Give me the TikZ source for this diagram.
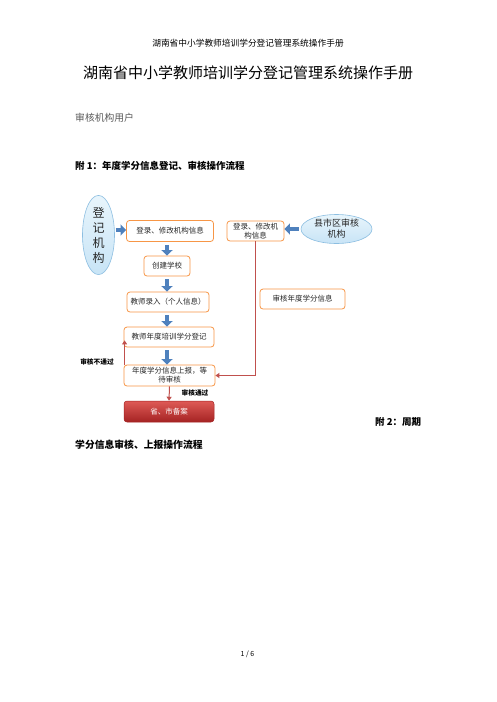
\documentclass[tikz,border=0pt]{standalone}
\usepackage{fontspec}
\setmainfont{Noto Sans CJK SC}
\usetikzlibrary{arrows.meta,calc,shapes.geometric}
\definecolor{boxorange}{RGB}{247,150,70}
\definecolor{conred}{RGB}{192,80,77}
\definecolor{arrblue}{RGB}{79,129,189}
\definecolor{ellfill}{RGB}{200,228,246}
\definecolor{elltop}{RGB}{232,245,252}
\definecolor{elldraw}{RGB}{140,190,225}
\definecolor{redtop}{RGB}{222,90,86}
\definecolor{redbot}{RGB}{165,35,35}
\tikzset{
  flowbox/.style={draw=boxorange, line width=0.8pt, rounded corners=3pt, fill=white,
    inner sep=1pt, align=center, font=\fontsize{7.5}{9}\selectfont, text=black!85},
  finalbox/.style={draw=redbot, line width=0.5pt, rounded corners=3pt,
    top color=redtop, bottom color=redbot, inner sep=1pt, align=center,
    font=\fontsize{7.5}{9}\selectfont, text=white},
  bluell/.style={ellipse, draw=elldraw, line width=0.6pt, top color=elltop, bottom color=ellfill,
    inner sep=0pt, align=center, text=black!85},
  barrow/.style={draw=arrblue, line width=4.5pt, -{Triangle[width=11pt,length=5.5pt]}, arrblue},
  rarrow/.style={draw=conred, line width=1pt, -{Triangle[width=5pt,length=4pt]}, conred},
  plain/.style={inner sep=0pt, text=black},
}
\begin{document}
\begin{tikzpicture}[x=1pt,y=-1pt]
\useasboundingbox (0,0) rectangle (496,702);
\fill[white] (0,0) rectangle (496,702);
% page texts
\node[plain, font=\fontsize{8.7}{10}\selectfont] (hdr) at (248,43) {湖南省中小学教师培训学分登记管理系统操作手册};
\node[plain, font=\fontsize{15}{17}\selectfont] (ttl) at (248,73) {湖南省中小学教师培训学分登记管理系统操作手册};
\node[plain, anchor=west, text=black!65, font=\fontsize{9.8}{11}\selectfont] (usr) at (75,118) {审核机构用户};
\node[plain, anchor=west, font=\fontsize{9.5}{11}\selectfont\bfseries] (fu1) at (75,166) {附 1：年度学分信息登记、审核操作流程};
\node[plain, anchor=west, font=\fontsize{9.5}{11}\selectfont\bfseries] (fu2) at (375,422) {附 2：周期};
\node[plain, anchor=west, font=\fontsize{9.8}{11}\selectfont\bfseries] (fu2b) at (75,445) {学分信息审核、上报操作流程};
\node[plain, font=\fontsize{7}{8}\selectfont] (pg) at (247.5,654) {1 / 6};
% ellipses
\node[bluell, minimum width=32pt, minimum height=63pt, font=\fontsize{12}{15}\selectfont] (e1) at (98.5,235) {登\\记\\机\\构};
\node[bluell, minimum width=71pt, minimum height=29pt, font=\fontsize{9}{11}\selectfont] (e2) at (336.5,229) {县市区审核\\机构};
% boxes
\node[flowbox, minimum width=87pt, minimum height=21pt] (b1) at (170,231) {登录、修改机构信息};
\node[flowbox, minimum width=46pt, minimum height=20pt] (b2) at (167,266) {创建学校};
\node[flowbox, minimum width=82pt, minimum height=20pt] (b3) at (168,302) {教师录入（个人信息）};
\node[flowbox, minimum width=90pt, minimum height=20pt] (b4) at (169,337) {教师年度培训学分登记};
\node[flowbox, minimum width=91pt, minimum height=21pt] (b5) at (169.5,375.5) {年度学分信息上报，等\\待审核};
\node[finalbox, minimum width=90pt, minimum height=21pt] (b6) at (169,411.5) {省、市备案};
\node[flowbox, minimum width=57pt, minimum height=20pt] (b7) at (255.5,231) {登录、修改机\\构信息};
\node[flowbox, minimum width=85pt, minimum height=20pt] (b8) at (302.5,299) {审核年度学分信息};
% block arrows
\coordinate (ax) at (167,0);
\draw[barrow, shorten <=1pt] (e1.east |- 0,230) -- (b1.west |- 0,230);
\draw[barrow, shorten <=2pt] (e2.west |- 0,229) -- (b7.east |- 0,229);
\draw[barrow, shorten <=3pt] (b1.south -| ax) -- (b2.north -| ax);
\draw[barrow, shorten <=3pt] (b2.south -| ax) -- (b3.north -| ax);
\draw[barrow, shorten <=3pt] (b3.south -| ax) -- (b4.north -| ax);
\draw[barrow, shorten <=3pt] (b4.south -| ax) -- (b5.north -| ax);
% red connectors
\draw[rarrow] (b5.south) -- (b6.north);
\draw[rarrow] (b7.south) |- (b5.east);
\draw[rarrow] ($(b5.north west)+(1,0)$) -- ($(b4.south west)+(1,-7)$);
\node[plain, font=\fontsize{6.7}{8}\selectfont\bfseries] (lno) at (97,362) {审核不通过};
\node[plain, font=\fontsize{6.7}{8}\selectfont\bfseries] (lyes) at (195,393) {审核通过};
\end{tikzpicture}
\end{document}
